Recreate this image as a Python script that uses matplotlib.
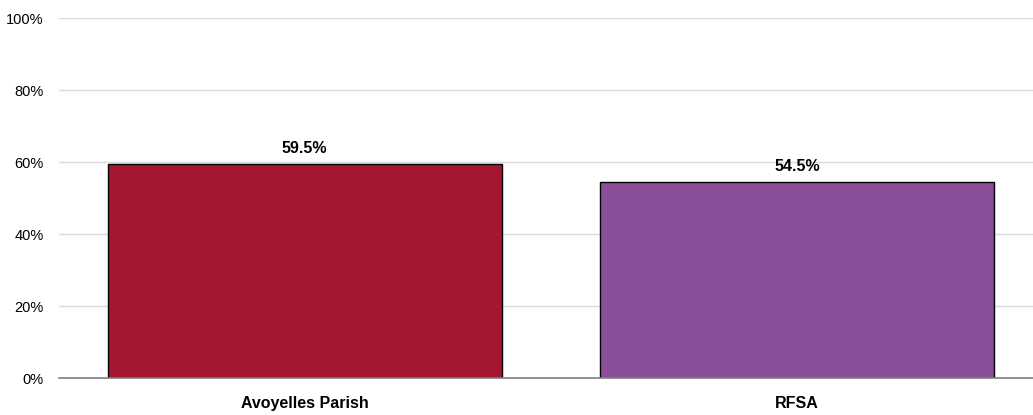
import matplotlib
matplotlib.use("Agg")
import matplotlib.pyplot as plt
from matplotlib.ticker import FuncFormatter

plt.rcParams['font.family'] = ['Liberation Sans', 'DejaVu Sans']

categories = ['Avoyelles Parish', 'RFSA']
values = [59.5, 54.5]
colors = ['#A31830', '#8B4F9A']

fig = plt.figure(figsize=(10.33, 4.15), dpi=100)
ax = fig.add_axes([59 / 1033, 37 / 415, 974 / 1033, 360 / 415])

x = range(len(categories))
bars = ax.bar(x, values, width=0.8, color=colors, edgecolor='black', linewidth=1, zorder=3)

for b, v in zip(bars, values):
    ax.text(b.get_x() + b.get_width() / 2, v + 2.3, f'{v:.1f}%', ha='center', va='bottom',
            fontsize=11.5, fontweight='bold')

ax.set_ylim(0, 100)
ax.set_xlim(-0.4985, 1.479)
ax.set_yticks([0, 20, 40, 60, 80, 100])
ax.yaxis.set_major_formatter(FuncFormatter(lambda v, p: f'{v:.0f}%'))
ax.set_xticks(list(x))
ax.set_xticklabels(categories, fontsize=11.5, fontweight='bold')
ax.tick_params(axis='y', length=0, labelsize=10.5, pad=11)
ax.tick_params(axis='x', length=0, pad=13)
ax.grid(axis='y', color='#d9d9d9', linewidth=1, zorder=0)
for s in ['top', 'right', 'left']:
    ax.spines[s].set_visible(False)
ax.spines['bottom'].set_color('#808080')
ax.spines['bottom'].set_linewidth(1.2)
ax.spines['bottom'].set_zorder(4)

fig.savefig('out.png', dpi=100)
